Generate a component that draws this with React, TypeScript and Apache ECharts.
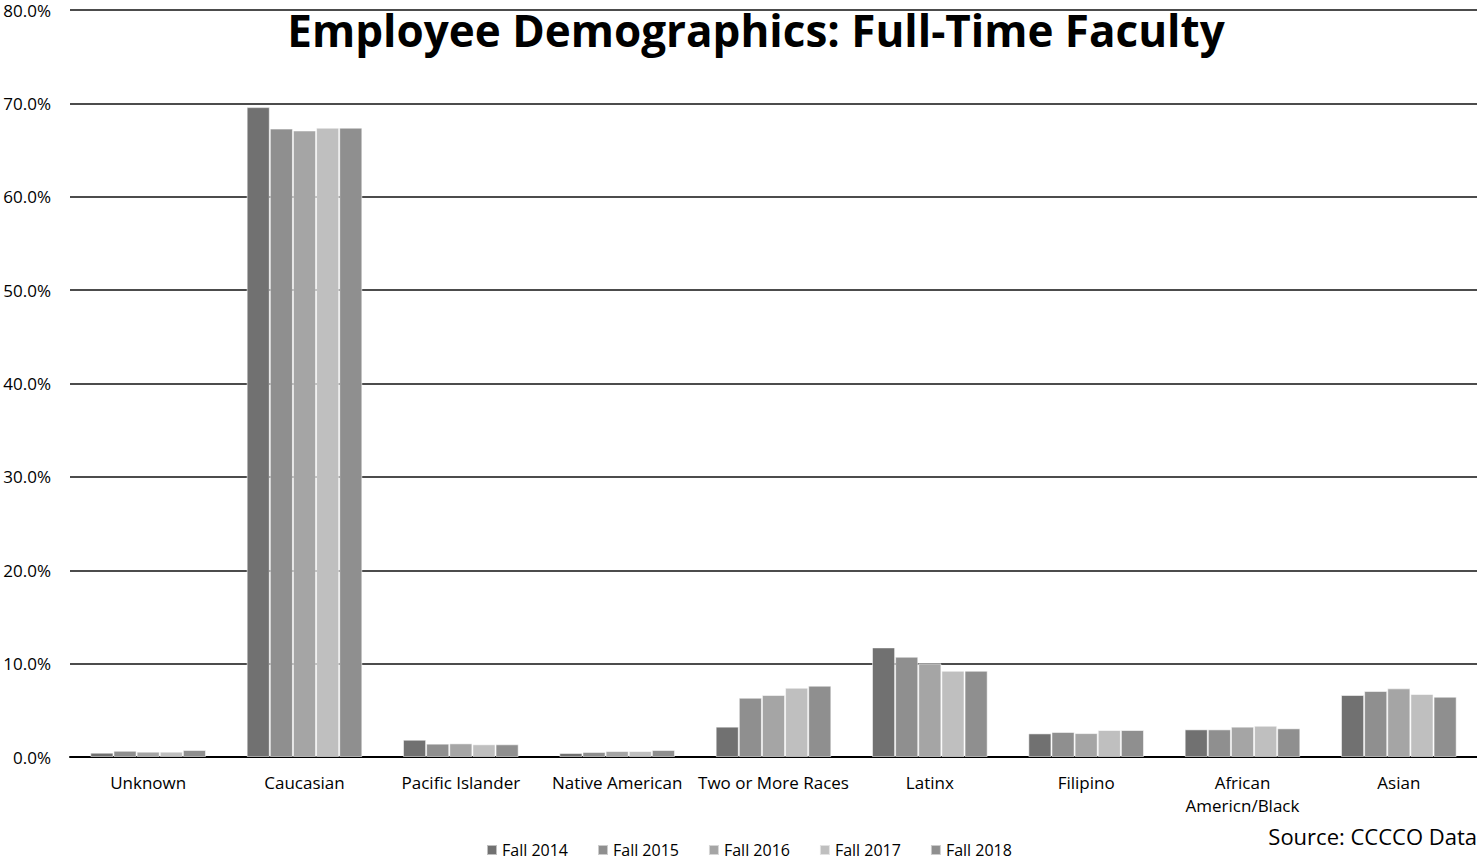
import React, { useEffect, useRef } from "react";
import * as echarts from "echarts";

const categories = [
  "Unknown",
  "Caucasian",
  "Pacific Islander",
  "Native American",
  "Two or More Races",
  "Latinx",
  "Filipino",
  "African\nAmericn/Black",
  "Asian",
];

const seriesNames = ["Fall 2014", "Fall 2015", "Fall 2016", "Fall 2017", "Fall 2018"];
const seriesColors = ["#717171", "#8f8f8f", "#a5a5a5", "#bfbfbf", "#8f8f8f"];

const fall2014 = [0.46, 69.6, 1.85, 0.43, 3.25, 11.74, 2.53, 2.96, 6.64];
const fall2015 = [0.67, 67.3, 1.43, 0.54, 6.35, 10.74, 2.68, 2.96, 7.07];
const fall2016 = [0.57, 67.1, 1.46, 0.64, 6.64, 10.03, 2.56, 3.25, 7.35];
const fall2017 = [0.57, 67.4, 1.36, 0.64, 7.42, 9.24, 2.89, 3.35, 6.75];
const fall2018 = [0.75, 67.4, 1.36, 0.75, 7.64, 9.24, 2.89, 3.07, 6.46];

const seriesData = [fall2014, fall2015, fall2016, fall2017, fall2018];

const yMin = 0;
const yMax = 80;
const yInterval = 10;

const FONT = "'Open Sans', 'Noto Sans', sans-serif";

export default function App() {
  const ref = useRef<HTMLDivElement>(null);

  useEffect(() => {
    if (!ref.current) return;
    const chart = echarts.init(ref.current, undefined, { renderer: "svg" });
    chart.setOption({
      animation: false,
      backgroundColor: "#ffffff",
      title: {
        text: "Employee Demographics: Full-Time Faculty",
        left: 756,
        textAlign: "center",
        top: 7,
        padding: 0,
        textStyle: {
          fontFamily: FONT,
          fontWeight: "bold",
          fontSize: 44,
          lineHeight: 46,
          color: "#000",
        },
      },
      graphic: [
        {
          type: "text",
          right: 0,
          top: 825,
          style: {
            text: "Source: CCCCO Data",
            fontFamily: FONT,
            fontSize: 22,
            fill: "#000",
          },
        },
      ],
      legend: {
        data: seriesNames,
        top: 841,
        left: 486,
        padding: 0,
        itemWidth: 10,
        itemHeight: 10,
        itemGap: 29,
        icon: "rect",
        textStyle: {
          fontFamily: FONT,
          fontSize: 16,
          lineHeight: 18,
          color: "#000",
        },
      },
      grid: {
        left: 70,
        right: 0,
        top: 10,
        bottom: 104,
        containLabel: false,
      },
      xAxis: {
        type: "category",
        data: categories,
        axisLine: { show: true, lineStyle: { color: "#000", width: 2 } },
        axisTick: { show: false },
        axisLabel: {
          interval: 0,
          margin: 14,
          fontFamily: FONT,
          fontSize: 17,
          color: "#000",
          lineHeight: 23,
        },
      },
      yAxis: {
        type: "value",
        min: yMin,
        max: yMax,
        interval: yInterval,
        axisLine: { show: false },
        axisTick: { show: false },
        splitLine: { lineStyle: { color: "#111", width: 1.5 } },
        axisLabel: {
          formatter: (v: number) => v.toFixed(1) + "%",
          fontFamily: FONT,
          fontSize: 17,
          color: "#000",
          margin: 19,
        },
      },
      series: seriesNames.map((name, i) => ({
        name,
        type: "bar",
        data: seriesData[i],
        barGap: "0%",
        barCategoryGap: "26%",
        itemStyle: {
          color: seriesColors[i],
          borderColor: "rgba(255,255,255,0.55)",
          borderWidth: 1,
        },
      })),
    });
    return () => chart.dispose();
  }, []);

  return (
    <div
      ref={ref}
      style={{ position: "fixed", left: 0, top: 0, width: 1477, height: 861 }}
    />
  );
}
